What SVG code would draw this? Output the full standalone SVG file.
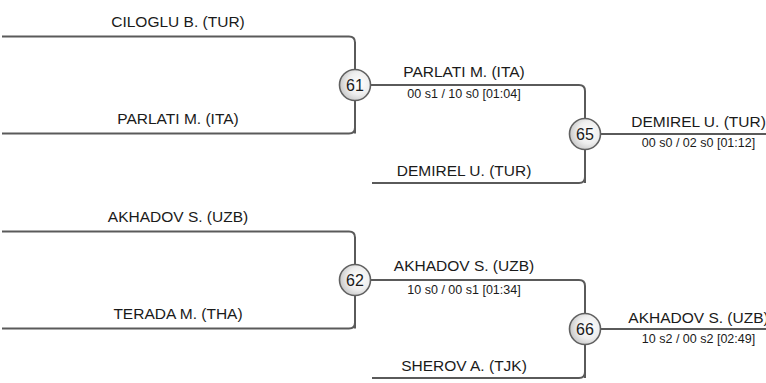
<svg xmlns="http://www.w3.org/2000/svg" width="766" height="383" viewBox="0 0 766 383">
  <defs>
    <radialGradient id="bub" cx="0.62" cy="0.45" r="0.65">
      <stop offset="0" stop-color="#ffffff"/>
      <stop offset="0.55" stop-color="#eeeeee"/>
      <stop offset="1" stop-color="#c4c4c4"/>
    </radialGradient>
    <style>
      .ln { fill: none; stroke: #5a5a5a; stroke-width: 2; }
      .bub { fill: url(#bub); stroke: #606060; stroke-width: 1.6; }
      .num { font-family: "Liberation Sans", Arial, sans-serif; font-size: 16px; fill: #1a1a1a; text-anchor: middle; }
      .name { font-family: "Liberation Sans", Arial, sans-serif; font-size: 15.5px; fill: #1a1a1a; text-anchor: middle; }
      .score { font-family: "Liberation Sans", Arial, sans-serif; font-size: 12.5px; fill: #1a1a1a; text-anchor: middle; }
    </style>
  </defs>
  <rect width="766" height="383" fill="#ffffff"/>

  <g id="connectors">
    <!-- top bracket -->
    <path class="ln" d="M2 36.5 H349 Q355 36.5 355 42.5 V133.5"/>
    <path class="ln" d="M2 133.5 H349 Q355 133.5 355 127.5 V85"/>
    <path class="ln" d="M355 85 H579 Q585 85 585 91 V183"/>
    <path class="ln" d="M372 183 H579 Q585 183 585 177 V134"/>
    <path class="ln" d="M585 134 H766"/>
    <!-- bottom bracket -->
    <path class="ln" d="M2 231.5 H349 Q355 231.5 355 237.5 V328.5"/>
    <path class="ln" d="M2 328.5 H349 Q355 328.5 355 322.5 V280"/>
    <path class="ln" d="M355 280 H579 Q585 280 585 286 V378"/>
    <path class="ln" d="M372 378 H579 Q585 378 585 372 V329"/>
    <path class="ln" d="M585 329 H766"/>
  </g>

  <g id="labels">
    <text class="name" x="178" y="26.5">CILOGLU B. (TUR)</text>
    <text class="name" x="178" y="124">PARLATI M. (ITA)</text>
    <text class="name" x="464" y="77">PARLATI M. (ITA)</text>
    <text class="score" x="464" y="98">00 s1 / 10 s0 [01:04]</text>
    <text class="name" x="464" y="175.5">DEMIREL U. (TUR)</text>
    <text class="name" x="698.5" y="126.5">DEMIREL U. (TUR)</text>
    <text class="score" x="698.5" y="146.5">00 s0 / 02 s0 [01:12]</text>

    <text class="name" x="178" y="221.5">AKHADOV S. (UZB)</text>
    <text class="name" x="178" y="319">TERADA M. (THA)</text>
    <text class="name" x="464" y="271">AKHADOV S. (UZB)</text>
    <text class="score" x="464" y="294">10 s0 / 00 s1 [01:34]</text>
    <text class="name" x="464" y="371">SHEROV A. (TJK)</text>
    <text class="name" x="698.5" y="322.5">AKHADOV S. (UZB)</text>
    <text class="score" x="698.5" y="343">10 s2 / 00 s2 [02:49]</text>
  </g>

  <g id="m61">
    <circle class="bub" cx="355" cy="85" r="15.5"/>
    <text class="num" x="355" y="90.5">61</text>
  </g>
  <g id="m65">
    <circle class="bub" cx="585" cy="134" r="15.5"/>
    <text class="num" x="585" y="139.5">65</text>
  </g>
  <g id="m62">
    <circle class="bub" cx="355" cy="280" r="15.5"/>
    <text class="num" x="355" y="285.5">62</text>
  </g>
  <g id="m66">
    <circle class="bub" cx="585" cy="329" r="15.5"/>
    <text class="num" x="585" y="334.5">66</text>
  </g>
</svg>
